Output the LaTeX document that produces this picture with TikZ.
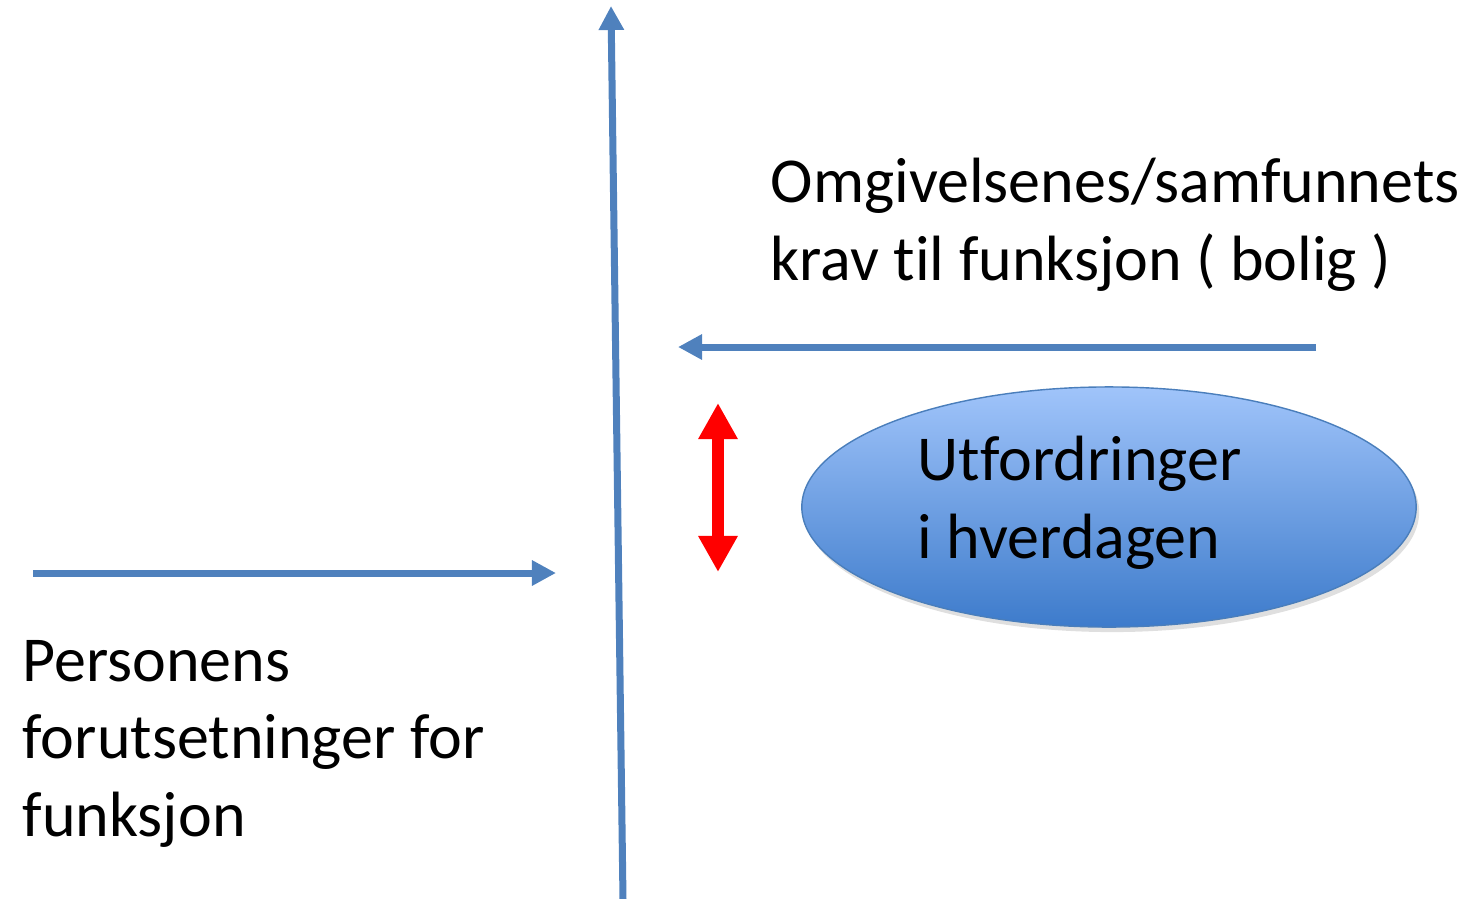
\documentclass[tikz,border=0pt]{standalone}
\usepackage{fontspec}
\setmainfont[Ligatures={NoCommon}]{Carlito}
\usetikzlibrary{arrows.meta,shapes.geometric,shadows}
\definecolor{axisblue}{HTML}{4F81BD}
\definecolor{ovaltop}{HTML}{A0C4FA}
\definecolor{ovalbot}{HTML}{3D7BCB}
\definecolor{ovalline}{HTML}{4A7EBB}

\begin{document}
\begin{tikzpicture}[x=0.01cm,y=-0.01cm,
    bluearrow/.style={draw=axisblue,line width=0.07cm,-{Triangle[width=0.24cm,length=0.24cm]}},
    redarrow/.style={draw=red,line width=0.12cm,{Triangle[width=0.37cm,length=0.36cm]}-{Triangle[width=0.37cm,length=0.36cm]}},
    label/.style={inner sep=0pt,align=left,font=\fontsize{18.2}{21.9}\selectfont},
    oval/.style={ellipse,draw=ovalline,line width=0.4pt,top color=ovaltop,bottom color=ovalbot,
        minimum width=6.14cm,minimum height=2.4cm,inner sep=0pt,
        drop shadow={shadow xshift=0.03cm,shadow yshift=-0.05cm,opacity=0.25}}]
    \useasboundingbox (0,0) rectangle (1468,899);
    % vertical axis
    \coordinate (axisbot) at (623,899);
    \coordinate (axistop) at (611,6);
    \draw[bluearrow] (axisbot) -- (axistop);
    % demands from the surroundings
    \node[label,anchor=base west] (demand) at (770,280) {Omgivelsenes/samfunnets\\krav til funksjon ( bolig )};
    \coordinate (demandstart) at (1316,347);
    \coordinate (demandend) at (678,347);
    \draw[bluearrow] (demandstart) -- (demandend);
    % the person's abilities
    \coordinate (abilitystart) at (33,573);
    \coordinate (abilityend) at (556,573);
    \draw[bluearrow] (abilitystart) -- (abilityend);
    \node[label,anchor=base west] (ability) at (22,836) {Personens\\forutsetninger for\\funksjon};
    % gap
    \coordinate (gaptop) at (718,403);
    \coordinate (gapbot) at (718,572);
    \draw[redarrow] (gaptop) -- (gapbot);
    \node[oval] (challenge) at (1109,507) {};
    \node[label,anchor=base west] (challengetext) at (917,558) {Utfordringer\\i hverdagen};
\end{tikzpicture}
\end{document}
